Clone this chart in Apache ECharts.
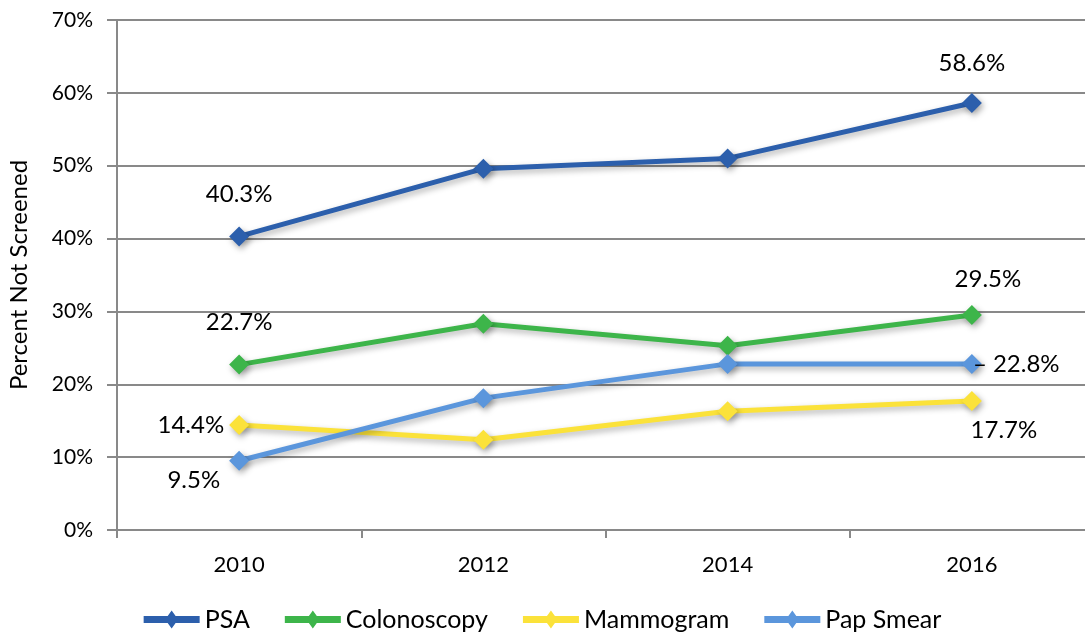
<!DOCTYPE html>
<html>
<head>
<meta charset="utf-8">
<script src="https://cdn.jsdelivr.net/npm/echarts@6/dist/echarts.min.js"></script>
<style>
html,body{margin:0;padding:0;background:#fff;}
#chart{width:1085px;height:637px;}
</style>
</head>
<body>
<div id="chart"></div>
<script>
var years = ['2010', '2012', '2014', '2016'];
var psa = [40.3, 49.6, 51.0, 58.6];
var colonoscopy = [22.7, 28.3, 25.3, 29.5];
var mammogram = [14.4, 12.4, 16.3, 17.7];
var papSmear = [9.5, 18.1, 22.8, 22.8];

var font = 'Lato, "Open Sans", sans-serif';
// legend icon: thick line with a diamond in the middle
var legendIcon = 'path://M0,5.5 L24.03,5.5 L28,0 L31.97,5.5 L56,5.5 L56,12.5 L31.97,12.5 L28,18 L24.03,12.5 L0,12.5 Z';

// labels only on first and last points
function withLabels(values, first, last){
	return values.map(function(v, i){
		var item = {value: v};
		if(i == 0) item.label = first;
		else if(i == values.length - 1) item.label = last;
		return item;
	});
}
function lbl(pos, extra){
	var o = {show: true, position: pos, distance: 14, fontSize: 24, color: '#000', fontFamily: font,
		formatter: function(p){ return p.value.toFixed(1) + '%'; }};
	for(var k in extra) o[k] = extra[k];
	return o;
}

function makeSeries(name, color, data){
	return {
		name: name,
		type: 'line',
		data: data,
		symbol: 'diamond',
		symbolSize: 20,
		itemStyle: {color: color, shadowColor: 'rgba(0,0,0,0.35)', shadowBlur: 6, shadowOffsetX: 2, shadowOffsetY: 3},
		lineStyle: {width: 5, color: color, shadowColor: 'rgba(0,0,0,0.3)', shadowBlur: 6, shadowOffsetX: 2, shadowOffsetY: 3},
		emphasis: {disabled: true},
		animation: false
	};
}

var chart = echarts.init(document.getElementById('chart'));
var option = {
	textStyle: {fontFamily: font},
	grid: {left: 117, width: 977, top: 20, bottom: 107, outerBoundsMode: 'none'},
	legend: {
		bottom: 0,
		left: 'center',
		itemWidth: 56,
		itemHeight: 18,
		itemGap: 35,
		itemStyle: {shadowBlur: 0, shadowOffsetX: 0, shadowOffsetY: 0, borderWidth: 0},
		textStyle: {fontSize: 25, color: '#000', fontFamily: font},
		data: [
			{name: 'PSA', icon: legendIcon},
			{name: 'Colonoscopy', icon: legendIcon},
			{name: 'Mammogram', icon: legendIcon},
			{name: 'Pap Smear', icon: legendIcon}
		]
	},
	xAxis: {
		type: 'category',
		data: years,
		boundaryGap: true,
		axisLine: {lineStyle: {color: '#898989', width: 2}},
		axisTick: {show: true, length: 8, lineStyle: {color: '#898989', width: 2}},
		axisLabel: {fontSize: 22, color: '#000', margin: 24, fontFamily: font}
	},
	yAxis: {
		type: 'value',
		min: 0,
		max: 70,
		interval: 10,
		name: 'Percent Not Screened',
		nameLocation: 'middle',
		nameGap: 86,
		nameTextStyle: {fontSize: 24, color: '#000', fontFamily: font},
		axisLine: {show: true, lineStyle: {color: '#898989', width: 2}},
		axisTick: {show: true, length: 10, lineStyle: {color: '#898989', width: 2}},
		splitLine: {lineStyle: {color: '#898989', width: 2}},
		axisLabel: {fontSize: 21, color: '#000', margin: 24, fontFamily: font, formatter: '{value}%'}
	},
	series: [
		makeSeries('PSA', '#2C5FAC', withLabels(psa, lbl('top', {distance: 20}), lbl('top', {distance: 18}))),
		makeSeries('Colonoscopy', '#3DB54A', withLabels(colonoscopy, lbl('top', {distance: 20}), lbl('top', {distance: 14, offset: [16, 0]}))),
		makeSeries('Mammogram', '#FBE23A', withLabels(mammogram, lbl('left', {distance: 5}), lbl('bottom', {distance: 7, offset: [32, 0]}))),
		makeSeries('Pap Smear', '#5B96DC', withLabels(papSmear, lbl('left', {distance: 9, offset: [0, 19]}),
			lbl('right', {distance: 0, offset: [-9, 0], formatter: function(p){ return '\u2013 ' + p.value.toFixed(1) + '%'; }})))
	]
};
chart.setOption(option);
</script>
</body>
</html>
